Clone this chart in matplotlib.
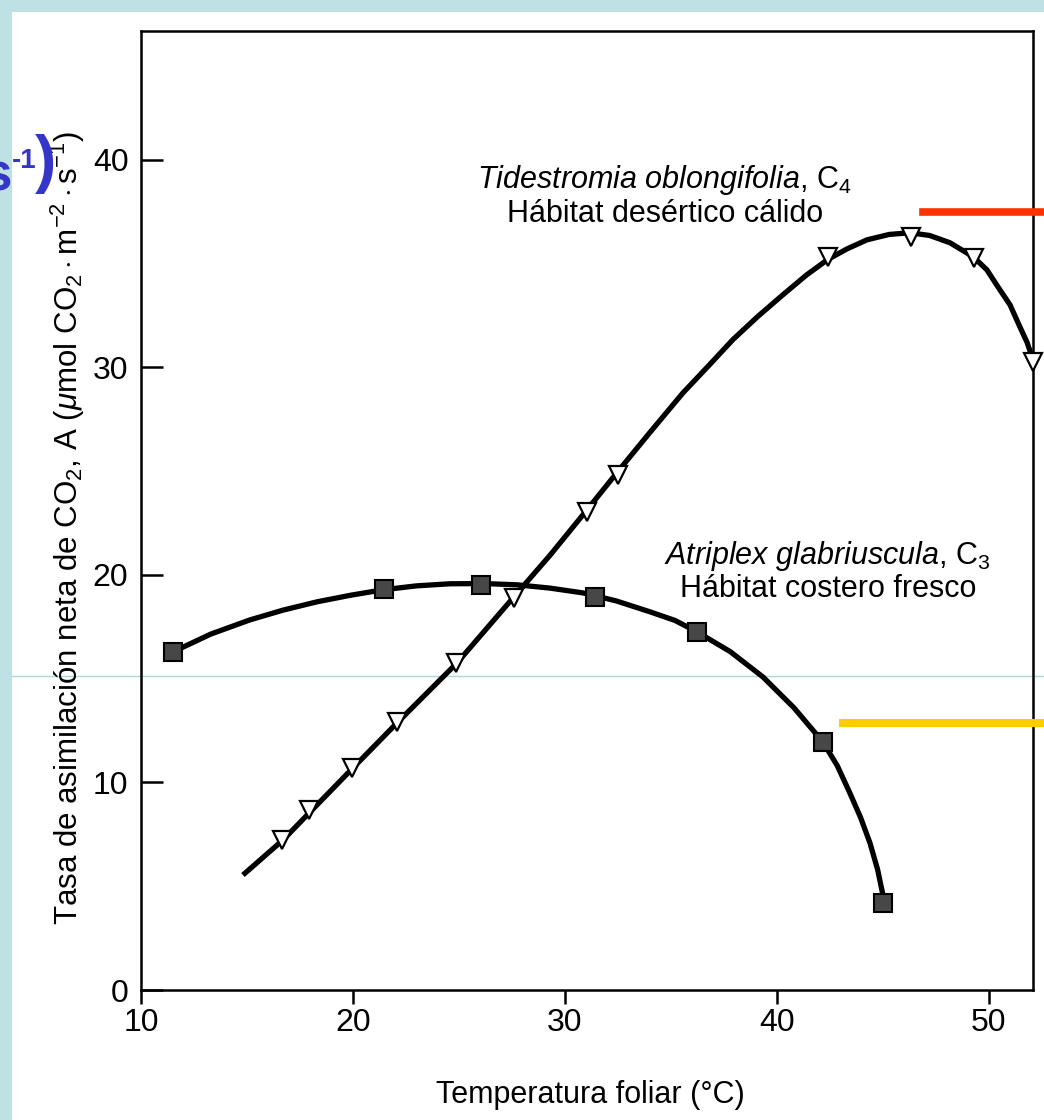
import matplotlib
matplotlib.use("Agg")
import matplotlib.pyplot as plt
from matplotlib.lines import Line2D
from matplotlib.patches import Rectangle

plt.rcParams['font.family'] = ['Liberation Sans', 'DejaVu Sans']
plt.rcParams['mathtext.fontset'] = 'custom'
plt.rcParams['mathtext.rm'] = 'Liberation Sans'
plt.rcParams['mathtext.it'] = 'Liberation Sans:italic'
plt.rcParams['mathtext.bf'] = 'Liberation Sans:bold'

# Tidestromia oblongifolia (C4) - measured points
tide_temp = [16.65, 17.92, 19.95, 22.08, 24.86, 27.59, 31.04, 32.5, 42.41, 46.32, 49.29, 52.08]
tide_rate = [7.23, 8.67, 10.70, 12.92, 15.76, 18.89, 23.04, 24.82, 35.33, 36.29, 35.28, 30.27]
# fitted curve
tide_curve_temp = [14.81, 16.70, 18.0, 20.0, 22.08, 24.91, 27.55, 29.3, 31.04, 32.45, 34.0,
                   35.57, 36.8, 37.92, 39.1, 40.28, 41.4, 42.41, 43.3, 44.25, 45.3, 46.27,
                   47.2, 48.16, 49.25, 49.9, 50.52, 51.0, 51.46, 51.8, 52.08]
tide_curve_rate = [5.54, 7.23, 8.6, 10.7, 12.87, 15.76, 18.89, 20.95, 23.13, 24.92, 26.85,
                   28.77, 30.1, 31.33, 32.45, 33.49, 34.45, 35.2, 35.7, 36.14, 36.4, 36.48,
                   36.35, 36.0, 35.33, 34.7, 33.73, 33.0, 31.95, 31.2, 30.36]

# Atriplex glabriuscula (C3) - measured points
atri_temp = [11.51, 21.46, 26.04, 31.42, 36.23, 42.17, 45.0]
atri_rate = [16.29, 19.33, 19.52, 18.94, 17.25, 11.95, 4.19]
atri_curve_temp = [11.51, 13.3, 15.14, 16.7, 18.3, 19.9, 21.42, 23.0, 24.58, 26.2, 27.74,
                   29.3, 30.85, 32.4, 34.01, 35.2, 36.23, 37.8, 39.34, 40.8, 42.17, 42.85,
                   43.44, 43.95, 44.39, 44.75, 45.0]
atri_curve_rate = [16.29, 17.15, 17.83, 18.3, 18.7, 19.02, 19.28, 19.47, 19.57, 19.58, 19.52,
                   19.36, 19.13, 18.75, 18.22, 17.8, 17.25, 16.3, 15.08, 13.6, 11.95, 10.8,
                   9.49, 8.3, 7.08, 5.8, 4.58]

x_ticks = [10, 20, 30, 40, 50]
y_ticks = [0, 10, 20, 30, 40]

W, H = 1044, 1120
fig = plt.figure(figsize=(W / 100, H / 100), dpi=100, facecolor='#bde1e4')

# white slide area and overlay decorations
fig.patches.append(Rectangle((12 / W, 0), 1 - 12 / W, 1 - 12 / H, transform=fig.transFigure,
                             facecolor='white', edgecolor='none', zorder=-3))
fig.lines.append(Line2D([12 / W, 1], [1 - 676 / H] * 2, transform=fig.transFigure,
                        color='#a9d9dc', lw=1.0, zorder=-2))

ax = fig.add_axes([141 / W, 1 - 990 / H, (1033 - 141) / W, (990 - 31) / H])
ax.set_facecolor('none')

ax.plot(tide_curve_temp, tide_curve_rate, color='black', lw=3.8, solid_capstyle='butt',
        solid_joinstyle='round', zorder=2)
ax.plot(atri_curve_temp, atri_curve_rate, color='black', lw=3.8, solid_capstyle='butt',
        solid_joinstyle='round', zorder=2)
ax.plot(tide_temp, tide_rate, ls='none', marker='v', ms=13, mfc='white', mec='black',
        mew=1.6, zorder=3, clip_on=False)
ax.plot(atri_temp, atri_rate, ls='none', marker='s', ms=13, mfc='#474747', mec='black',
        mew=1.5, zorder=3, clip_on=False)

ax.set_xlim(10, 52.08)
ax.set_ylim(0, 46.2)
ax.set_xticks(x_ticks)
ax.set_yticks(y_ticks)
for s in ax.spines.values():
    s.set_linewidth(1.8)
ax.tick_params(axis='y', direction='in', length=16, width=1.8, labelsize=23, pad=9)
ax.tick_params(axis='x', direction='out', length=10, width=1.8, labelsize=23, pad=3)

ax.text(34.7, 39.0, r"$\it{Tidestromia\ oblongifolia}$, C$_4$", fontsize=22, ha='center', va='center')
ax.text(34.7, 37.4, "Hábitat desértico cálido", fontsize=22, ha='center', va='center')
ax.text(42.4, 20.9, r"$\it{Atriplex\ glabriuscula}$, C$_3$", fontsize=22, ha='center', va='center')
ax.text(42.4, 19.3, "Hábitat costero fresco", fontsize=22, ha='center', va='center')

fig.text(590 / W, 1 - 1095 / H, "Temperatura foliar (°C)", fontsize=22, ha='center', va='center')
fig.text(68 / W, 1 - 528 / H,
         r"Tasa de asimilación neta de CO$_2$, A ($\mathit{\mu}$mol CO$_2\cdot$m$^{-2}\cdot$s$^{-1}$)",
         fontsize=22.5, rotation=90, ha='center', va='center')

# slide overlay bits (blue unit fragment is cut by the left edge, as in the slide)
blue = '#3535c8'
fig.text(11 / W, 1 - 190 / H, "s", fontsize=38, fontweight='bold', color=blue,
         ha='right', va='baseline')
fig.text(12 / W, 1 - 168 / H, "-1", fontsize=20, fontweight='bold', color=blue,
         ha='left', va='baseline')
fig.text(56 / W, 1 - 164 / H, ")", fontsize=46, fontweight='bold', color=blue,
         ha='right', va='center')
fig.lines.append(Line2D([923 / W, 1], [1 - 212 / H] * 2, transform=fig.transFigure,
                        color='#ff3300', lw=5.5, zorder=10))
fig.lines.append(Line2D([843 / W, 1], [1 - 723 / H] * 2, transform=fig.transFigure,
                        color='#ffcc00', lw=5.8, zorder=10))

fig.savefig('out.png', dpi=100, facecolor=fig.get_facecolor())
